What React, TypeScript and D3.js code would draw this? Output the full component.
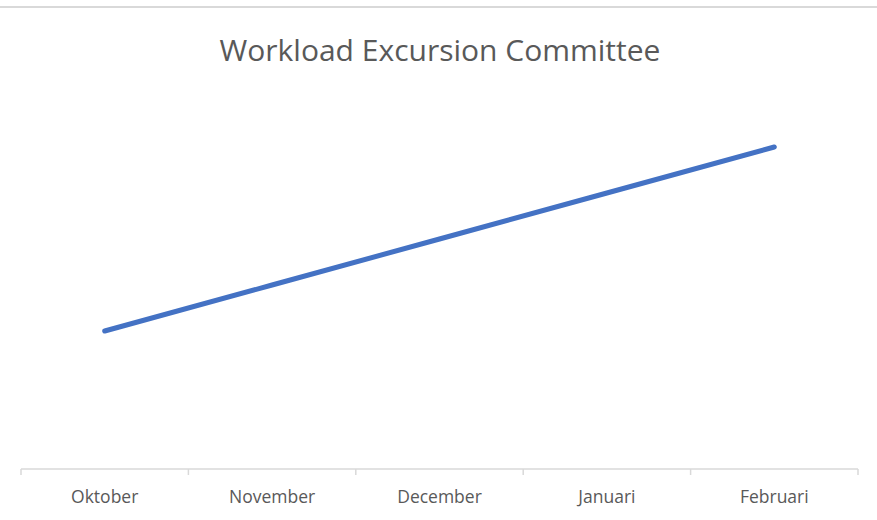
import React, { useEffect, useRef } from "react";
import * as d3 from "d3";

const months = ["Oktober", "November", "December", "Januari", "Februari"];
const workload = [3, 4, 5, 6, 7];
const title = "Workload Excursion Committee";

export default function App() {
  const ref = useRef<SVGSVGElement>(null);

  useEffect(() => {
    document.body.style.margin = "0";
    const width = 877;
    const height = 520;
    const svg = d3.select(ref.current).attr("width", width).attr("height", height);
    svg.selectAll("*").remove();

    svg.append("rect").attr("width", width).attr("height", height).attr("fill", "#fff");

    // frame top edge
    svg
      .append("line")
      .attr("x1", 0)
      .attr("x2", width)
      .attr("y1", 7)
      .attr("y2", 7)
      .attr("stroke", "#d9d9d9")
      .attr("stroke-width", 2);

    svg
      .append("text")
      .attr("x", 440)
      .attr("y", 61)
      .attr("text-anchor", "middle")
      .attr("font-family", "Open Sans, sans-serif")
      .attr("font-size", 30)
      .attr("fill", "#595959")
      .text(title);

    const xScale = d3.scaleBand().domain(months).range([21, 858]);
    const yScale = d3.scaleLinear().domain([0, 10]).range([469, 9]);

    const axis = svg.append("g").attr("transform", "translate(0,469)");
    axis
      .append("line")
      .attr("x1", 21)
      .attr("x2", 858)
      .attr("stroke", "#d9d9d9")
      .attr("stroke-width", 1.5);
    const bounds = months.map((m) => xScale(m) as number).concat([858]);
    axis
      .selectAll("line.tick")
      .data(bounds)
      .enter()
      .append("line")
      .attr("class", "tick")
      .attr("x1", (d) => d)
      .attr("x2", (d) => d)
      .attr("y1", 0)
      .attr("y2", 6)
      .attr("stroke", "#d9d9d9")
      .attr("stroke-width", 1.5);
    axis
      .selectAll("text")
      .data(months)
      .enter()
      .append("text")
      .attr("x", (d) => (xScale(d) as number) + xScale.bandwidth() / 2)
      .attr("y", 34)
      .attr("text-anchor", "middle")
      .attr("font-family", "Open Sans, sans-serif")
      .attr("font-size", 17.5)
      .attr("fill", "#595959")
      .text((d) => d);

    const line = d3
      .line<number>()
      .x((d, i) => (xScale(months[i]) as number) + xScale.bandwidth() / 2)
      .y((d) => yScale(d));

    svg
      .append("path")
      .datum(workload)
      .attr("d", line)
      .attr("fill", "none")
      .attr("stroke", "#4472C4")
      .attr("stroke-width", 5)
      .attr("stroke-linecap", "round");
  }, []);

  return <svg ref={ref} style={{ display: "block" }} />;
}
